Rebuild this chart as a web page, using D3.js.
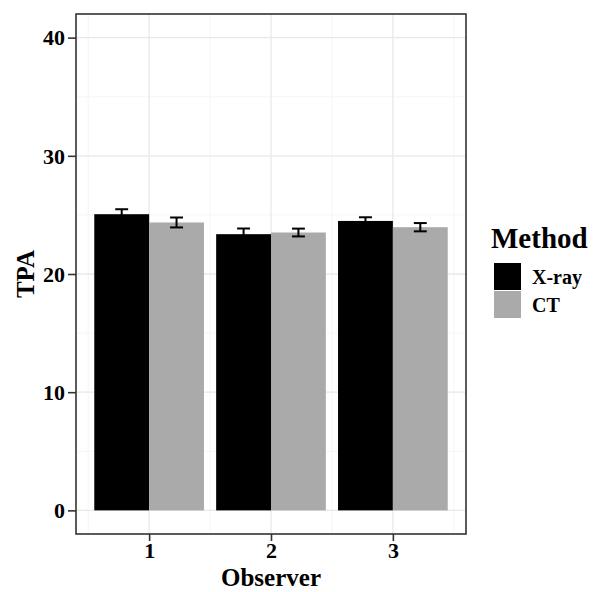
<!DOCTYPE html>
<html><head><meta charset="utf-8">
<script src="https://cdn.jsdelivr.net/npm/d3@7"></script>
<style>body{margin:0;background:#fff}</style>
</head><body>
<svg id="c" width="593" height="592"></svg>
<script>
const observers = ["1","2","3"];
const methods = ["X-ray","CT"];
const meanXray = [25.06, 23.37, 24.49];
const seXray = [0.42, 0.48, 0.31];
const meanCT = [24.36, 23.51, 23.96];
const seCT = [0.42, 0.33, 0.35];
const yTicks = [0, 10, 20, 30, 40];
const yMinor = [5, 15, 25, 35];
const colors = ["#000000", "#aaaaaa"];

const data = [];
observers.forEach((o,i)=>{
  data.push({obs:o, method:"X-ray", mean:meanXray[i], se:seXray[i]});
  data.push({obs:o, method:"CT", mean:meanCT[i], se:seCT[i]});
});

const svg = d3.select("#c");
const L=76, R=466, T=14, B=534;
const font = "'Liberation Serif','Times New Roman',serif";

const x = d3.scalePoint().domain(observers).range([L,R]).padding(0.6);
const step = x.step();
const xm = d3.scaleBand().domain(methods).range([-0.45*step, 0.45*step]);
const y = d3.scaleLinear().domain([-2,42]).range([B,T]);
const color = d3.scaleOrdinal().domain(methods).range(colors);

// grid
const g = svg.append("g");
g.selectAll(".ym").data(yMinor).join("line")
  .attr("x1",L).attr("x2",R).attr("y1",d=>y(d)).attr("y2",d=>y(d))
  .attr("stroke","#f2f2f2").attr("stroke-width",0.8);
const xMinorPos = [0,1,2,3].map(i=> L + (0.6+i-0.5)*step);
g.selectAll(".xm").data(xMinorPos).join("line")
  .attr("x1",d=>d).attr("x2",d=>d).attr("y1",T).attr("y2",B)
  .attr("stroke","#f2f2f2").attr("stroke-width",0.8);
g.selectAll(".yM").data(yTicks).join("line")
  .attr("x1",L).attr("x2",R).attr("y1",d=>y(d)).attr("y2",d=>y(d))
  .attr("stroke","#e8e8e8").attr("stroke-width",1.3);
g.selectAll(".xM").data(observers).join("line")
  .attr("x1",d=>x(d)).attr("x2",d=>x(d)).attr("y1",T).attr("y2",B)
  .attr("stroke","#e8e8e8").attr("stroke-width",1.3);

// bars
svg.append("g").selectAll("rect").data(data).join("rect")
  .attr("x",d=>x(d.obs)+xm(d.method))
  .attr("width",xm.bandwidth())
  .attr("y",d=>y(d.mean))
  .attr("height",d=>y(0)-y(d.mean))
  .attr("fill",d=>color(d.method));

// error bars
const cap = 0.053*step;
const eb = svg.append("g").attr("stroke","#000").attr("stroke-width",2).attr("fill","none");
data.forEach(d=>{
  const cx = x(d.obs)+xm(d.method)+xm.bandwidth()/2;
  eb.append("line").attr("x1",cx).attr("x2",cx).attr("y1",y(d.mean-d.se)).attr("y2",y(d.mean+d.se));
  eb.append("line").attr("x1",cx-cap).attr("x2",cx+cap).attr("y1",y(d.mean-d.se)).attr("y2",y(d.mean-d.se));
  eb.append("line").attr("x1",cx-cap).attr("x2",cx+cap).attr("y1",y(d.mean+d.se)).attr("y2",y(d.mean+d.se));
});

// panel border
svg.append("rect").attr("x",L).attr("y",T).attr("width",R-L).attr("height",B-T)
  .attr("fill","none").attr("stroke","#333").attr("stroke-width",1.6);

// axes
const yAxis = svg.append("g").attr("transform",`translate(${L},0)`)
  .call(d3.axisLeft(y).tickValues(yTicks).tickSize(8).tickPadding(3));
const xAxis = svg.append("g").attr("transform",`translate(0,${B})`)
  .call(d3.axisBottom(x).tickSize(7).tickPadding(2));
[yAxis,xAxis].forEach(a=>{
  a.select(".domain").remove();
  a.selectAll(".tick line").attr("stroke","#333").attr("stroke-width",1.6);
  a.selectAll(".tick text").attr("fill","#000").style("font-family",font)
   .style("font-weight","bold").style("font-size","22px");
});
yAxis.selectAll(".tick text").attr("dy","0.33em");
xAxis.selectAll(".tick text").attr("dy","0.68em");

// axis titles
svg.append("text").attr("x",(L+R)/2).attr("y",586).attr("text-anchor","middle")
  .style("font-family",font).style("font-weight","bold").style("font-size","25px").text("Observer");
svg.append("text").attr("transform",`translate(34,${(T+B)/2}) rotate(-90)`).attr("text-anchor","middle")
  .style("font-family",font).style("font-weight","bold").style("font-size","25px").text("TPA");

// legend
const lg = svg.append("g");
lg.append("text").attr("x",491).attr("y",248)
  .style("font-family",font).style("font-weight","bold").style("font-size","29px").text("Method");
methods.forEach((m,i)=>{
  lg.append("rect").attr("x",494).attr("y",263+i*28).attr("width",27).attr("height",27).attr("fill",color(m));
  lg.append("text").attr("x",532).attr("y",284+i*28)
    .style("font-family",font).style("font-weight","bold").style("font-size","20px").text(m);
});
</script>
</body></html>
